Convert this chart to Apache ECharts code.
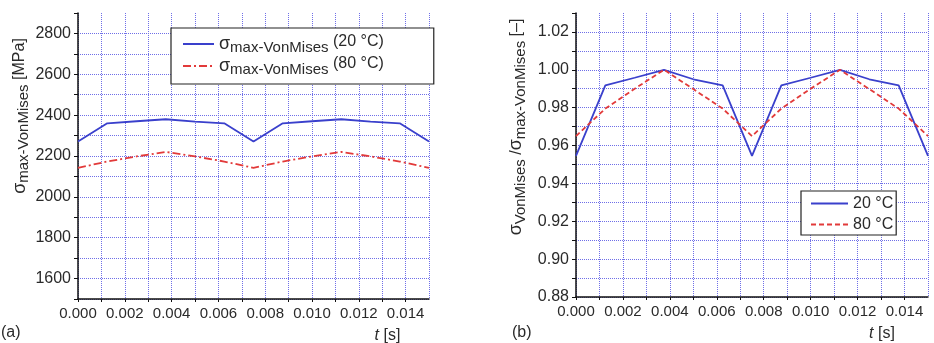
<!DOCTYPE html>
<html>
<head>
<meta charset="utf-8">
<script src="https://cdn.jsdelivr.net/npm/echarts@6/dist/echarts.min.js"></script>
<style>
html,body{margin:0;padding:0;background:#fff;}
#c{width:934px;height:343px;}
</style>
</head>
<body>
<div id="c"></div>
<script>
// time points [s]
var timeS = [0, 0.00125, 0.0025, 0.00375, 0.005, 0.00625, 0.0075, 0.00875, 0.01, 0.01125, 0.0125, 0.01375, 0.015];
// (a) max von Mises stress [MPa]
var stress20 = [2271, 2360, 2370, 2380, 2368, 2360, 2271, 2360, 2370, 2380, 2368, 2360, 2271];
var stress80 = [2142, 2173, 2198, 2220, 2198, 2173, 2142, 2173, 2198, 2220, 2198, 2173, 2142];
// (b) normalised stress [-]
var ratio20 = [0.9545, 0.9918, 0.9958, 1.0, 0.9950, 0.9918, 0.9545, 0.9918, 0.9958, 1.0, 0.9950, 0.9918, 0.9545];
var ratio80 = [0.9650, 0.9795, 0.9900, 1.0, 0.9898, 0.9795, 0.9650, 0.9795, 0.9900, 1.0, 0.9898, 0.9795, 0.9650];
// axis ticks
var xTickLabels = ['0.000','0.002','0.004','0.006','0.008','0.010','0.012','0.014'];
var yTickLabelsA = ['1600','1800','2000','2200','2400','2600','2800'];
var yTickLabelsB = ['0.88','0.90','0.92','0.94','0.96','0.98','1.00','1.02'];

function pairs(xs, ys){ return xs.map(function(x,i){return [x, ys[i]];}); }

var FONT = '"Liberation Sans", Arial, sans-serif';
var TXT = '#2a2a2a';
var BLUE = '#3a40cc';
var RED = '#e23a3a';
var GRIDC = '#6f6fe8';

function xAxisCfg(gi){
  return {
    type:'value', gridIndex:gi, min:0, max:0.015, interval:0.001,
    name:'{i|t} [s]', nameLocation:'middle', nameGap:29,
    nameTextStyle:{fontFamily:FONT, fontSize:16, color:TXT, padding:[0,0,0,gi===0?268:260],
      rich:{i:{fontStyle:'italic', fontFamily:FONT, fontSize:16, color:TXT}}},
    axisLine:{show:true, onZero:false, lineStyle:{color:'#111', width:1.5}},
    axisTick:{show:true, inside:false, length:3, lineStyle:{color:'#111', width:1}},
    axisLabel:{fontFamily:FONT, fontSize:15, color:TXT, margin:7, showMaxLabel:false, hideOverlap:false,
      formatter:function(v){
        var k = Math.round(v*1000);
        if (k % 2 !== 0) return '';
        var s = v.toFixed(3);
        return xTickLabels.indexOf(s) >= 0 ? s : '';
      }},
    splitLine:{show:true, lineStyle:{color:GRIDC, type:'dotted', width:1}}
  };
}

var option = {
  animation:false,
  backgroundColor:'#fff',
  grid:[
    {left:78, top:13, width:351, height:286, containLabel:false, outerBoundsMode:'none'},
    {left:576, top:13, width:352, height:284, containLabel:false, outerBoundsMode:'none'}
  ],
  xAxis:[ xAxisCfg(0), xAxisCfg(1) ],
  yAxis:[
    {
      type:'value', gridIndex:0, min:1500, max:2900, interval:100,
      name:'{s|σ}{sub|max-VonMises} [MPa]', nameLocation:'middle', nameGap:43, nameRotate:90,
      nameTextStyle:{fontFamily:FONT, fontSize:16, color:TXT, padding:[0,0,0,80],
        rich:{
          s:{fontFamily:FONT, fontSize:18, color:TXT, verticalAlign:'middle'},
          sub:{fontFamily:FONT, fontSize:15, color:TXT, padding:[8,0,0,0]}
        }},
      axisLine:{show:true, lineStyle:{color:'#111', width:1.5}},
      axisTick:{show:true, length:4, lineStyle:{color:'#111', width:1}},
      axisLabel:{fontFamily:FONT, fontSize:16, color:TXT, margin:7,
        formatter:function(v){ var s=String(Math.round(v)); return yTickLabelsA.indexOf(s)>=0 ? s : ''; }},
      splitLine:{show:true, showMaxLine:false, lineStyle:{color:GRIDC, type:'dotted', width:1}}
    },
    {
      type:'value', gridIndex:1, min:0.88, max:1.03, interval:0.01,
      name:'{s|σ}{sub|VonMises} /{s|σ}{sub|max-VonMises} [–]', nameLocation:'middle', nameGap:48, nameRotate:90,
      nameTextStyle:{fontFamily:FONT, fontSize:16, color:TXT, padding:[0,0,0,56],
        rich:{
          s:{fontFamily:FONT, fontSize:18, color:TXT, verticalAlign:'middle'},
          sub:{fontFamily:FONT, fontSize:15, color:TXT, padding:[8,0,0,0]}
        }},
      axisLine:{show:true, lineStyle:{color:'#111', width:1.5}},
      axisTick:{show:true, length:4, lineStyle:{color:'#111', width:1}},
      axisLabel:{fontFamily:FONT, fontSize:16, color:TXT, margin:7,
        formatter:function(v){ var s=v.toFixed(2); return yTickLabelsB.indexOf(s)>=0 ? s : ''; }},
      splitLine:{show:true, showMaxLine:false, lineStyle:{color:GRIDC, type:'dotted', width:1}}
    }
  ],
  legend:[
    {
      data:['sA20','sA80'], orient:'vertical', left:171, top:28,
      backgroundColor:'#fff', borderColor:'#222', borderWidth:1.2, borderRadius:0,
      padding:[5,50,7,11], itemGap:0, itemWidth:31, itemHeight:10,
      itemStyle:{opacity:0},
      formatter:function(n){
        return '{s|σ}{sub|max-VonMises} {n|' + (n==='sA20' ? '(20 °C)' : '(80 °C)') + '}';
      },
      textStyle:{fontFamily:FONT, fontSize:16, color:TXT, lineHeight:21,
        rich:{
          s:{fontFamily:FONT, fontSize:18, color:TXT, lineHeight:21},
          sub:{fontFamily:FONT, fontSize:15, color:TXT, lineHeight:21, padding:[7,0,0,0]},
          n:{fontFamily:FONT, fontSize:16, color:TXT, lineHeight:21, padding:[0,0,4,0]}
        }}
    },
    {
      data:['sB20','sB80'], orient:'vertical', left:801, top:191,
      backgroundColor:'#fff', borderColor:'#222', borderWidth:1.2, borderRadius:0,
      padding:[3,3,1,9], itemGap:2, itemWidth:37, itemHeight:10,
      itemStyle:{opacity:0},
      formatter:function(n){ return n==='sB20' ? '20 °C' : '80 °C'; },
      textStyle:{fontFamily:FONT, fontSize:16, color:TXT, lineHeight:19}
    }
  ],
  graphic:[
    {type:'text', left:1, top:325, style:{text:'(a)', font:'16px '+FONT, fill:TXT}},
    {type:'text', left:512, top:325, style:{text:'(b)', font:'16px '+FONT, fill:TXT}}
  ],
  series:[
    {name:'sA20', type:'line', xAxisIndex:0, yAxisIndex:0, data:pairs(timeS, stress20),
      symbol:'none', color:BLUE, lineStyle:{color:BLUE, width:1.8, type:'solid'}, z:5},
    {name:'sA80', type:'line', xAxisIndex:0, yAxisIndex:0, data:pairs(timeS, stress80),
      symbol:'none', color:RED, lineStyle:{color:RED, width:1.8, type:[8,3,2,3]}, z:5},
    {name:'sB20', type:'line', xAxisIndex:1, yAxisIndex:1, data:pairs(timeS, ratio20),
      symbol:'none', color:BLUE, lineStyle:{color:BLUE, width:1.8, type:'solid'}, z:5},
    {name:'sB80', type:'line', xAxisIndex:1, yAxisIndex:1, data:pairs(timeS, ratio80),
      symbol:'none', color:RED, lineStyle:{color:RED, width:1.8, type:[5,3]}, z:5}
  ]
};

var chart = echarts.init(document.getElementById('c'), null, {renderer:'canvas'});
chart.setOption(option);
</script>
</body>
</html>
